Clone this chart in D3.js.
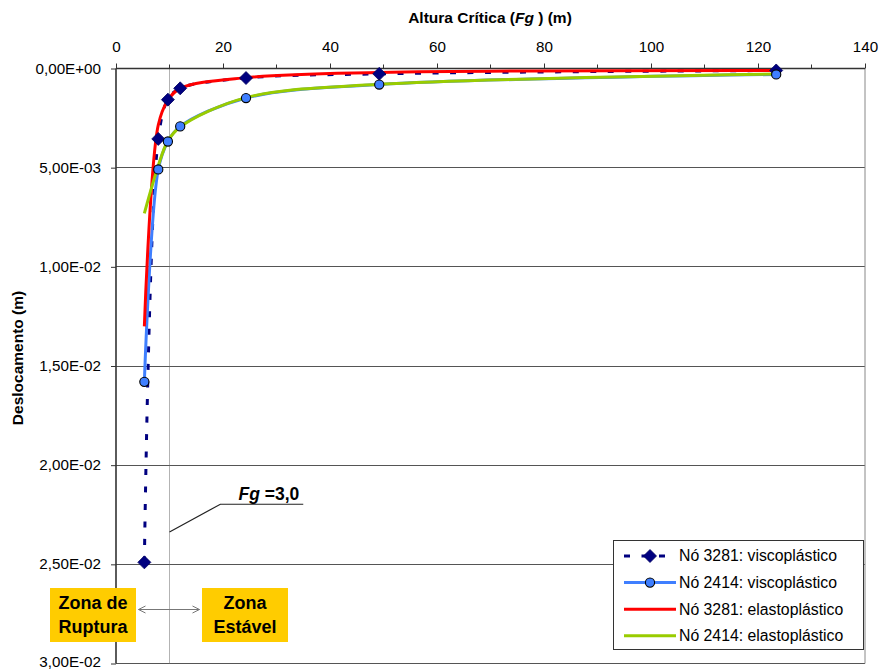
<!DOCTYPE html>
<html><head><meta charset="utf-8">
<script src="https://cdn.jsdelivr.net/npm/d3@7"></script>
<style>body{margin:0;background:#fff}svg{font-family:"Liberation Sans",Arial,sans-serif}</style>
</head><body><svg id="c" width="880" height="670"></svg>
<script>
// ---- data ----
const fg = [5.3, 7.9, 9.7, 12.0, 24.3, 49.2, 123.4];
const visco3281 = [2.49e-2, 3.55e-3, 1.57e-3, 1.0e-3, 4.8e-4, 2.7e-4, 1.0e-4];
const visco2414 = [1.58e-2, 5.09e-3, 3.68e-3, 2.92e-3, 1.49e-3, 8.1e-4, 3.0e-4];
const elasto3281 = [1.30e-2, 2.85e-3, 1.6e-3, 1.0e-3, 4.6e-4, 2.0e-4, 1.0e-4];
const elasto2414 = [7.3e-3, 4.9e-3, 3.65e-3, 2.95e-3, 1.47e-3, 8.0e-4, 2.8e-4];
const seriesNames = ["Nó 3281: viscoplástico", "Nó 2414: viscoplástico", "Nó 3281: elastoplástico", "Nó 2414: elastoplástico"];
const xTicks = [0, 20, 40, 60, 80, 100, 120, 140];
const xMinorTicks = [10, 30, 50, 70, 90, 110, 130];
const yTicks = [0, 0.005, 0.01, 0.015, 0.02, 0.025, 0.03];
const yTickLabels = ["0,00E+00", "5,00E-03", "1,00E-02", "1,50E-02", "2,00E-02", "2,50E-02", "3,00E-02"];
const fgCritical = 10;           // dotted reference line
const fgCalloutLabel = "=3,0";

// ---- layout ----
const L = 116, R = 865, T = 68.5, B = 663.5;
const svg = d3.select("#c");
const x = d3.scaleLinear().domain([0, 140]).range([L, R]);
const y = d3.scaleLinear().domain([0, 0.03]).range([T, B]);
const crisp = v => Math.round(v - 0.5) + 0.5;

// gridlines
svg.append("g").selectAll("line").data(yTicks.slice(1)).join("line")
  .attr("x1", L).attr("x2", R).attr("y1", d => crisp(y(d))).attr("y2", d => crisp(y(d)))
  .attr("stroke", "#555").attr("stroke-width", 1);
// right border
svg.append("line").attr("x1", R).attr("x2", R).attr("y1", T).attr("y2", B).attr("stroke", "#888");

// dotted reference line
svg.append("line").attr("x1", crisp(x(fgCritical))).attr("x2", crisp(x(fgCritical))).attr("y1", T).attr("y2", B)
  .attr("stroke", "#666").attr("stroke-dasharray", "1,1").attr("stroke-width", 1);

// axes
const xAxis = d3.axisTop(x).tickValues(xTicks).tickSize(5).tickPadding(12).tickFormat(d3.format("d"));
const gx = svg.append("g").attr("transform", `translate(0,${T})`).call(xAxis);
svg.append("g").selectAll("line").data(xMinorTicks).join("line")
  .attr("x1", d => x(d)).attr("x2", d => x(d)).attr("y1", T - 4).attr("y2", T).attr("stroke", "#333");
const yAxis = d3.axisLeft(y).tickValues(yTicks).tickSize(5).tickPadding(10).tickFormat((d, i) => yTickLabels[i]);
const gy = svg.append("g").attr("transform", `translate(${L},0)`).call(yAxis);
[gx, gy].forEach(g => {
  g.attr("font-size", null).attr("font-family", null);
  g.select(".domain").attr("stroke", "#333").attr("stroke-width", 1.6);
  g.selectAll(".tick line").attr("stroke", "#333");
  g.selectAll("text").attr("fill", "#000").style("font-size", "15.2px");
});
gy.selectAll("text").attr("dy", "0.3em");
gy.selectAll(".tick").filter(d => d === 0.03).select("text").attr("dy", "0.18em");
gx.select(".domain").attr("d", `M${L},0H${R}`);
gy.select(".domain").attr("d", `M0,${T}V${B}`);

// titles
const xt = svg.append("text").attr("x", 490).attr("y", 23).attr("text-anchor", "middle")
  .style("font-size", "15.5px").style("font-weight", "bold");
xt.append("tspan").text("Altura Crítica (");
xt.append("tspan").style("font-style", "italic").text("Fg");
xt.append("tspan").text(" ) (m)");
svg.append("text").attr("transform", "translate(23,358) rotate(-90)").attr("text-anchor", "middle")
  .style("font-size", "15.5px").style("font-weight", "bold").text("Deslocamento (m)");

// series
const series = [
  {name: seriesNames[0], vals: visco3281, color: "#000080", dash: "6,11.5", marker: "diamond"},
  {name: seriesNames[1], vals: visco2414, color: "#3F7FFF", dash: null, marker: "circle"},
  {name: seriesNames[2], vals: elasto3281, color: "#FF0000", dash: null, marker: null},
  {name: seriesNames[3], vals: elasto2414, color: "#99CC00", dash: null, marker: null}
];
const line = d3.line().x(d => x(d[0])).y(d => y(d[1])).curve(d3.curveCatmullRom.alpha(0.5));
series.forEach(s => {
  svg.append("path").datum(fg.map((f, i) => [f, s.vals[i]]))
    .attr("d", line).attr("fill", "none").attr("stroke", s.color).attr("stroke-width", 3)
    .attr("stroke-dasharray", s.dash);
});
function drawMarker(g, type, cx, cy) {
  if (type === "diamond") {
    g.append("path").attr("d", "M0,-6.5L6.5,0L0,6.5L-6.5,0Z").attr("transform", `translate(${cx},${cy})`)
      .attr("fill", "#000080").attr("stroke", "#000060").attr("stroke-width", 0.8);
  } else if (type === "circle") {
    g.append("circle").attr("cx", cx).attr("cy", cy).attr("r", 4.6)
      .attr("fill", "#3F7FFF").attr("stroke", "#000").attr("stroke-width", 1.1);
  }
}
const mg = svg.append("g");
series.forEach(s => {
  if (!s.marker) return;
  fg.forEach((f, i) => drawMarker(mg, s.marker, x(f), y(s.vals[i])));
});

// callout Fg=3,0
const callout = [[fgCritical, 0.02337], [19.5, 0.02197], [35.0, 0.02197]];
svg.append("path").attr("d", d3.line().x(d => x(d[0])).y(d => y(d[1]))(callout))
  .attr("fill", "none").attr("stroke", "#222").attr("stroke-width", 1.2);
const ct = svg.append("text").attr("x", x(35.0) - 4).attr("y", y(0.02197) - 4).attr("text-anchor", "end")
  .style("font-size", "17.5px").style("font-weight", "bold");
ct.append("tspan").style("font-style", "italic").text("Fg");
ct.append("tspan").text(" " + fgCalloutLabel);

// zone boxes
function zoneBox(x0, x1, lines) {
  svg.append("rect").attr("x", x0).attr("y", 588).attr("width", x1 - x0).attr("height", 54).attr("fill", "#FFCC00");
  const t = svg.append("text").attr("text-anchor", "middle").style("font-size", "18px").style("font-weight", "bold");
  lines.forEach((l, i) => t.append("tspan").attr("x", (x0 + x1) / 2).attr("y", 609 + i * 24).text(l));
}
zoneBox(50, 136, ["Zona de", "Ruptura"]);
zoneBox(202, 288, ["Zona", "Estável"]);
// double arrow
const ay = 609.5, ax0 = 138.5, ax1 = 199.5;
svg.append("path").attr("d", `M${ax0},${ay}H${ax1}M${ax0 + 7},${ay - 3.5}L${ax0},${ay}L${ax0 + 7},${ay + 3.5}M${ax1 - 7},${ay - 3.5}L${ax1},${ay}L${ax1 - 7},${ay + 3.5}`)
  .attr("fill", "none").attr("stroke", "#777").attr("stroke-width", 1);

// legend
const lg = svg.append("g");
lg.append("rect").attr("x", 613.5).attr("y", 540.5).attr("width", 250).attr("height", 109)
  .attr("fill", "#fff").attr("stroke", "#333").attr("stroke-width", 1);
series.forEach((s, i) => {
  const cy = 556 + i * 26.6;
  lg.append("line").attr("x1", 624).attr("x2", 676).attr("y1", cy).attr("y2", cy)
    .attr("stroke", s.color).attr("stroke-width", 3).attr("stroke-dasharray", s.dash);
  if (s.marker) drawMarker(lg, s.marker, 650, cy);
  lg.append("text").attr("x", 679).attr("y", cy + 5.4).style("font-size", "15.8px").text(s.name);
});
</script></body></html>
